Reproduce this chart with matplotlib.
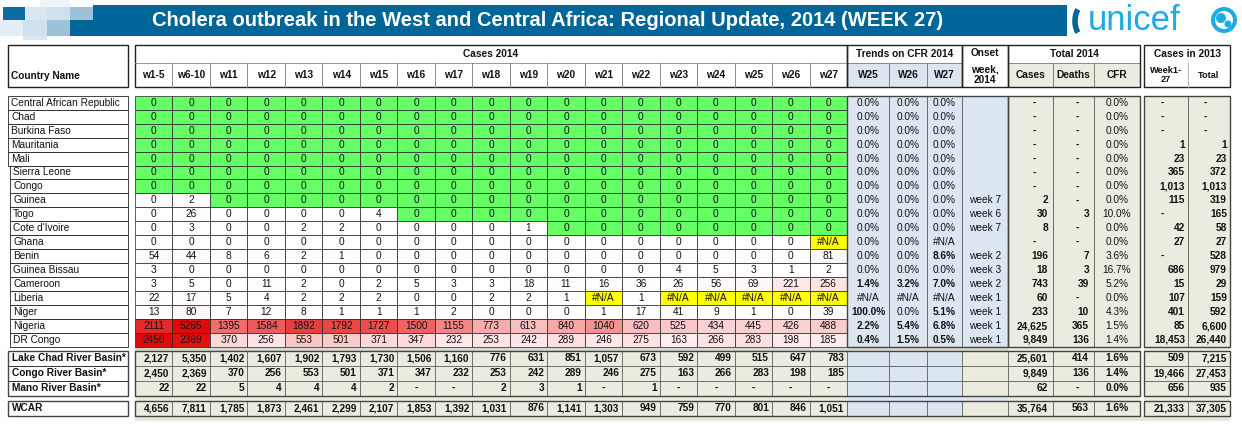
import numpy as np
import matplotlib
matplotlib.use('Agg')
import matplotlib.pyplot as plt
from matplotlib import font_manager
from matplotlib.patches import Rectangle, Circle, Arc
from matplotlib.colors import LinearSegmentedColormap

NA = np.nan

# ------------------------------------------------------------
# data
# ------------------------------------------------------------
title = 'Cholera outbreak in the West and Central Africa: Regional Update, 2014 (WEEK 27)'

week_labels = ['w1-5', 'w6-10', 'w11', 'w12', 'w13', 'w14', 'w15', 'w16', 'w17',
               'w18', 'w19', 'w20', 'w21', 'w22', 'w23', 'w24', 'w25', 'w26', 'w27']

countries = ['Central African Republic', 'Chad', 'Burkina Faso', 'Mauritania', 'Mali',
             'Sierra Leone', 'Congo', 'Guinea', 'Togo', "Cote d'Ivoire", 'Ghana', 'Benin',
             'Guinea Bissau', 'Cameroon', 'Liberia', 'Niger', 'Nigeria', 'DR Congo']

Z = [0] * 19
weekly = [
    Z, Z, Z, Z, Z, Z, Z,
    [0, 2, 0, 0, 0, 0, 0, 0, 0, 0, 0, 0, 0, 0, 0, 0, 0, 0, 0],
    [0, 26, 0, 0, 0, 0, 4, 0, 0, 0, 0, 0, 0, 0, 0, 0, 0, 0, 0],
    [0, 3, 0, 0, 2, 2, 0, 0, 0, 0, 1, 0, 0, 0, 0, 0, 0, 0, 0],
    [0, 0, 0, 0, 0, 0, 0, 0, 0, 0, 0, 0, 0, 0, 0, 0, 0, 0, NA],
    [54, 44, 8, 6, 2, 1, 0, 0, 0, 0, 0, 0, 0, 0, 0, 0, 0, 0, 81],
    [3, 0, 0, 0, 0, 0, 0, 0, 0, 0, 0, 0, 0, 0, 4, 5, 3, 1, 2],
    [3, 5, 0, 11, 2, 0, 2, 5, 3, 3, 18, 11, 16, 36, 26, 56, 69, 221, 256],
    [22, 17, 5, 4, 2, 2, 2, 0, 0, 2, 2, 1, NA, 1, NA, NA, NA, NA, NA],
    [13, 80, 7, 12, 8, 1, 1, 1, 2, 0, 0, 0, 1, 17, 41, 9, 1, 0, 39],
    [2111, 5265, 1395, 1584, 1892, 1792, 1727, 1500, 1155, 773, 613, 840, 1040, 620,
     525, 434, 445, 426, 488],
    [2450, 2369, 370, 256, 553, 501, 371, 347, 232, 253, 242, 289, 246, 275, 163, 266,
     283, 198, 185],
]

trend_labels = ['W25', 'W26', 'W27']
cfr_w25 = [0, 0, 0, 0, 0, 0, 0, 0, 0, 0, 0, 0, 0, 1.4, NA, 100.0, 2.2, 0.4]
cfr_w26 = [0, 0, 0, 0, 0, 0, 0, 0, 0, 0, 0, 0, 0, 3.2, NA, 0, 5.4, 1.5]
cfr_w27 = [0, 0, 0, 0, 0, 0, 0, 0, 0, 0, NA, 8.6, 0, 7.0, NA, 5.1, 6.8, 0.5]

onset = ['', '', '', '', '', '', '', 'week 7', 'week 6', 'week 7', '', 'week 2',
         'week 3', 'week 2', 'week 1', 'week 1', 'week 1', 'week 1']

cases_2014 = [0, 0, 0, 0, 0, 0, 0, 2, 30, 8, 0, 196, 18, 743, 60, 233, 24625, 9849]
deaths_2014 = [0, 0, 0, 0, 0, 0, 0, 0, 3, 0, 0, 7, 3, 39, 0, 10, 365, 136]
cases_2013_w27 = [0, 0, 0, 1, 23, 365, 1013, 115, 0, 42, 27, 0, 686, 15, 107, 401, 85, 18453]
cases_2013_total = [0, 0, 0, 1, 23, 372, 1013, 319, 165, 58, 27, 528, 979, 29, 159, 592,
                    6600, 26440]

basins = ['Lake Chad River Basin*', 'Congo River Basin*', 'Mano River Basin*']
basin_weekly = [
    [2127, 5350, 1402, 1607, 1902, 1793, 1730, 1506, 1160, 776, 631, 851, 1057, 673,
     592, 499, 515, 647, 783],
    [2450, 2369, 370, 256, 553, 501, 371, 347, 232, 253, 242, 289, 246, 275, 163, 266,
     283, 198, 185],
    [22, 22, 5, 4, 4, 4, 2, 0, 0, 2, 3, 1, 0, 1, 0, 0, 0, 0, 0],
]
basin_cases = [25601, 9849, 62]
basin_deaths = [414, 136, 0]
basin_2013_w27 = [509, 19466, 656]
basin_2013_total = [7215, 27453, 935]

wcar_weekly = [4656, 7811, 1785, 1873, 2461, 2299, 2107, 1853, 1392, 1031, 876, 1141,
               1303, 949, 759, 770, 801, 846, 1051]
wcar_cases = 35764
wcar_deaths = 563
wcar_2013_w27 = 21333
wcar_2013_total = 37305

# ------------------------------------------------------------
# style
# ------------------------------------------------------------
names = {f.name for f in font_manager.fontManager.ttflist}
FONT = 'Liberation Sans' if 'Liberation Sans' in names else 'DejaVu Sans'
TFONT = 'Liberation Sans Narrow' if 'Liberation Sans Narrow' in names else FONT
plt.rcParams['font.family'] = [FONT, 'DejaVu Sans']

BLUE = '#DCE6F1'
BEIGE = '#ECEBDF'
GREEN = '#66FF66'
YELLOW = '#FFFF00'
BANNER = '#00669A'
CYAN = '#1CABE2'
LINE = '#222222'
FS = 7.3
red_cmap = LinearSegmentedColormap.from_list(
    'reds', [(0, '#FFFFFF'), (0.55, '#F37070'), (1, '#E00A0A')])

fig = plt.figure(figsize=(12.42, 4.24), dpi=100)
ax = fig.add_axes([0, 0, 1, 1])
ax.set_xlim(0, 1242)
ax.set_ylim(424, 0)
ax.axis('off')


def box(x0, x1, y0, y1, fc='none', ec='none', lw=0.6, z=1):
    ax.add_patch(Rectangle((x0, y0), x1 - x0, y1 - y0, facecolor=fc,
                           edgecolor=ec, linewidth=lw, zorder=z))


def txt(x, y, s, ha='center', bold=False, size=FS, color='#111111', **kw):
    ax.text(x, y, s, ha=ha, va='center', fontsize=size, color=color,
            fontweight='bold' if bold else 'normal', zorder=5, **kw)


def fmt_pct(v):
    return '#N/A' if np.isnan(v) else f'{v:.1f}%'


# ------------------------------------------------------------
# banner
# ------------------------------------------------------------
# decorative squares (x0, x1, y0, y1, colour)
for sq in [(40, 70, 0, 7, '#EEF4F8'), (3, 25, 7, 20, '#0E6CA5'),
           (25, 47, 7, 20, '#D8E7F1'), (47, 70, 7, 20, '#CFE1EC'),
           (70, 93, 7, 20, '#9DC3DA'), (0, 23, 20, 36, '#E3EEF5'),
           (23, 47, 20, 36, '#CFE1EC'), (47, 70, 20, 36, '#9DC3DA'),
           (23, 47, 36, 40, '#D8E7F1')]:
    box(sq[0], sq[1], sq[2], sq[3], fc=sq[4], z=1)
box(93, 1067, 5, 36, fc=BANNER, z=1)
box(70, 93, 20, 36, fc=BANNER, z=1)
ax.add_patch(Arc((1086, 21), 22, 34, theta1=125, theta2=235, color=BANNER, lw=4, zorder=2))
t = ax.text(548, 21, title, ha='center', va='center', color='white', fontsize=16,
            fontweight='bold', family=[TFONT, FONT], zorder=3)
fig.canvas.draw()
w = t.get_window_extent(fig.canvas.get_renderer()).width
t.set_fontsize(16 * 788 / w)

ax.text(1088, 20, 'unicef', ha='left', va='center', color=CYAN, fontsize=25,
        family=FONT, zorder=3)
ax.add_patch(Circle((1224, 20), 13, facecolor=CYAN, edgecolor='none', zorder=3))
ax.add_patch(Circle((1224, 20), 9, facecolor='white', edgecolor='none', zorder=3))
ax.add_patch(Circle((1221, 18), 5, facecolor=CYAN, edgecolor='none', zorder=3))
ax.add_patch(Circle((1228, 24), 3.5, facecolor=CYAN, edgecolor='none', zorder=3))

# ------------------------------------------------------------
# geometry
# ------------------------------------------------------------
n_w = len(week_labels)
wx = [135 + i * (847 - 135) / n_w for i in range(n_w + 1)]
tx = [847, 889, 927, 962]
ox = [962, 1008]
tot_x = [1008, 1053, 1094, 1140]
c13_x = [1144, 1188, 1230]
H0, H1, H2 = 45, 63, 87
D0, RH = 95.7, 13.96
S0, SH = 351, 14.9
W0, W1 = 400.5, 415.7
rows_y = [D0 + i * RH for i in range(len(countries) + 1)]
sum_y = [S0 + i * SH for i in range(len(basins) + 1)]

# shadows / column backgrounds
box(tx[0], ox[1], D0, 421, fc=BLUE, z=0)
box(tot_x[0], tot_x[-1], D0, 421, fc=BEIGE, z=0)
box(c13_x[0], c13_x[-1], D0, 421, fc=BEIGE, z=0)
box(wx[0], wx[-1], S0, 421, fc=BEIGE, z=0)
box(wx[0], ox[1], 347, S0, fc='#D8D8D0', z=0.5)
box(wx[0], c13_x[-1], W1, 421, fc='#E6E6DE', z=0.5)

# ------------------------------------------------------------
# header
# ------------------------------------------------------------
box(8, 128, H0, H2, ec=LINE, lw=1.0, z=2)
txt(11, 76, 'Country Name', ha='left', bold=True)
box(wx[0], wx[-1], H0, H2, ec=LINE, lw=1.0, z=2)
ax.plot([wx[0], wx[-1]], [H1, H1], color='#888888', lw=0.6, zorder=2)
txt((wx[0] + wx[-1]) / 2, 54, 'Cases 2014', bold=True)
for i, lab in enumerate(week_labels):
    if i:
        ax.plot([wx[i], wx[i]], [H1, H2], color='#777777', lw=0.6, zorder=2)
    txt((wx[i] + wx[i + 1]) / 2, 75, lab, bold=True)

box(tx[0], tx[-1], H0, H2, ec=LINE, lw=1.0, z=2)
txt((tx[0] + tx[-1]) / 2, 54, 'Trends on CFR 2014', bold=True)
for i, lab in enumerate(trend_labels):
    box(tx[i], tx[i + 1], H1, H2, fc=BLUE, ec='#777777', lw=0.6, z=1.5)
    txt((tx[i] + tx[i + 1]) / 2, 75, lab, bold=True)

box(ox[0], ox[1], H0, H2, ec=LINE, lw=1.0, z=2)
txt(985, 53, 'Onset', bold=True)
txt(985, 69, 'week,', bold=True)
txt(985, 80, '2014', bold=True)

box(tot_x[0], tot_x[-1], H0, H2, ec=LINE, lw=1.0, z=2)
txt((tot_x[0] + tot_x[-1]) / 2, 54, 'Total 2014', bold=True)
for i, lab in enumerate(['Cases', 'Deaths', 'CFR']):
    box(tot_x[i], tot_x[i + 1], H1, H2, fc=BEIGE, ec='#777777', lw=0.6, z=1.5)
    txt((tot_x[i] + tot_x[i + 1]) / 2, 75, lab, bold=True)

box(c13_x[0], c13_x[-1], H0, H2, ec=LINE, lw=1.0, z=2)
txt((c13_x[0] + c13_x[-1]) / 2, 54, 'Cases in 2013', bold=True)
ax.plot([c13_x[1], c13_x[1]], [H1, H2], color='#aaaaaa', lw=0.6, zorder=2)
txt(1166, 75, 'Week1-\n27', bold=True, size=6.6, linespacing=1.0)
txt(1209, 75, 'Total', bold=True, size=6.6)

# ------------------------------------------------------------
# country rows
# ------------------------------------------------------------
for r, name in enumerate(countries):
    y0, y1 = rows_y[r], rows_y[r + 1]
    yc = (y0 + y1) / 2
    box(8 if r < 5 else 10, 128, y0, y1, fc='white', ec=LINE, lw=0.6, z=2)
    txt(11 if r < 5 else 13, yc, name, ha='left')

    vals = np.array(weekly[r], dtype=float)
    nonzero = [j for j, v in enumerate(vals) if np.isnan(v) or v != 0]
    last = nonzero[-1] if nonzero else -1
    for j, v in enumerate(vals):
        if np.isnan(v):
            fc, s = YELLOW, '#N/A'
        elif j > last:
            fc, s = GREEN, '0'
        else:
            fc, s = red_cmap(min(float(v) / 2450.0, 1.0)), str(int(v))
        box(wx[j], wx[j + 1], y0, y1, fc=fc, ec=LINE, lw=0.5, z=2)
        txt((wx[j] + wx[j + 1]) / 2, yc, s)

    for i, col in enumerate([cfr_w25, cfr_w26, cfr_w27]):
        v = col[r]
        txt((tx[i] + tx[i + 1]) / 2, yc, fmt_pct(v),
            bold=(not np.isnan(v)) and v > 0)
    txt(985, yc, onset[r])

    c, d = cases_2014[r], deaths_2014[r]
    for i, v in enumerate([c, d]):
        if v == 0:
            txt((tot_x[i] + tot_x[i + 1]) / 2 + 4, yc, '-', bold=True)
        else:
            txt(tot_x[i + 1] - 5, yc, f'{v:,}', ha='right', bold=True)
    txt((tot_x[2] + tot_x[3]) / 2, yc, f'{(100 * d / c if c else 0):.1f}%')

    for i, v in enumerate([cases_2013_w27[r], cases_2013_total[r]]):
        if v == 0:
            txt((c13_x[i] + c13_x[i + 1]) / 2 - 4, yc, '-', bold=True)
        else:
            txt(c13_x[i + 1] - 3, yc, f'{v:,}', ha='right', bold=True)

# vertical lines of right blocks (data part)
for x in tx + ox[1:] + tot_x + c13_x:
    ax.plot([x, x], [D0, rows_y[-1]], color='#555555', lw=0.6, zorder=2)
for xa, xb in [(tx[0], ox[1]), (tot_x[0], tot_x[-1]), (c13_x[0], c13_x[-1])]:
    box(xa, xb, D0, rows_y[-1], ec='#444444', lw=1.0, z=2.5)


# ------------------------------------------------------------
# basin and WCAR rows
# ------------------------------------------------------------
def summary_cells(y0, y1):
    for j in range(n_w):
        box(wx[j], wx[j + 1], y0, y1, fc=BEIGE, ec='#555555', lw=0.5, z=2)
    for i in range(3):
        box(tx[i], tx[i + 1], y0, y1, fc=BLUE, ec='#555555', lw=0.5, z=2)
    box(ox[0], ox[1], y0, y1, fc=BEIGE, ec='#555555', lw=0.5, z=2)
    for i in range(3):
        box(tot_x[i], tot_x[i + 1], y0, y1, fc=BEIGE, ec='#555555', lw=0.5, z=2)
    for i in range(2):
        box(c13_x[i], c13_x[i + 1], y0, y1, fc=BEIGE, ec='#555555', lw=0.5, z=2)


def summary_row(y0, y1, name, wvals, c, d, c13a, c13b):
    yc = (y0 + y1) / 2
    txt(12, yc, name, ha='left', bold=True)
    for j, v in enumerate(wvals):
        if v == 0:
            txt((wx[j] + wx[j + 1]) / 2, yc, '-', bold=True)
        else:
            txt(wx[j + 1] - 3, yc, f'{v:,}', ha='right', bold=True)
    txt(tot_x[1] - 5, yc, f'{c:,}', ha='right', bold=True)
    if d == 0:
        txt((tot_x[1] + tot_x[2]) / 2 + 4, yc, '-', bold=True)
    else:
        txt(tot_x[2] - 5, yc, f'{d:,}', ha='right', bold=True)
    txt((tot_x[2] + tot_x[3]) / 2, yc, f'{100 * d / c:.1f}%', bold=True)
    txt(c13_x[1] - 3, yc, f'{c13a:,}', ha='right', bold=True)
    txt(c13_x[2] - 3, yc, f'{c13b:,}', ha='right', bold=True)


for k, name in enumerate(basins):
    y0, y1 = sum_y[k], sum_y[k + 1]
    box(8, 128, y0, y1, fc='white', ec=LINE, lw=0.6, z=2)
    summary_cells(y0, y1)
    summary_row(y0, y1, name, basin_weekly[k], basin_cases[k], basin_deaths[k],
                basin_2013_w27[k], basin_2013_total[k])
box(8, 128, sum_y[0], sum_y[-1], ec='#444444', lw=1.0, z=2.5)
box(wx[0], tot_x[-1], sum_y[0], sum_y[-1], ec='#444444', lw=1.0, z=2.5)
box(c13_x[0], c13_x[-1], sum_y[0], sum_y[-1], ec='#444444', lw=1.0, z=2.5)

box(8, 128, W0, W1, fc='white', ec='#444444', lw=1.0, z=2)
summary_cells(W0, W1)
box(wx[0], tot_x[-1], W0, W1, ec='#444444', lw=1.0, z=2.5)
box(c13_x[0], c13_x[-1], W0, W1, ec='#444444', lw=1.0, z=2.5)
summary_row(W0, W1, 'WCAR', wcar_weekly, wcar_cases, wcar_deaths,
            wcar_2013_w27, wcar_2013_total)

fig.savefig('out.png', dpi=100, facecolor='white')
